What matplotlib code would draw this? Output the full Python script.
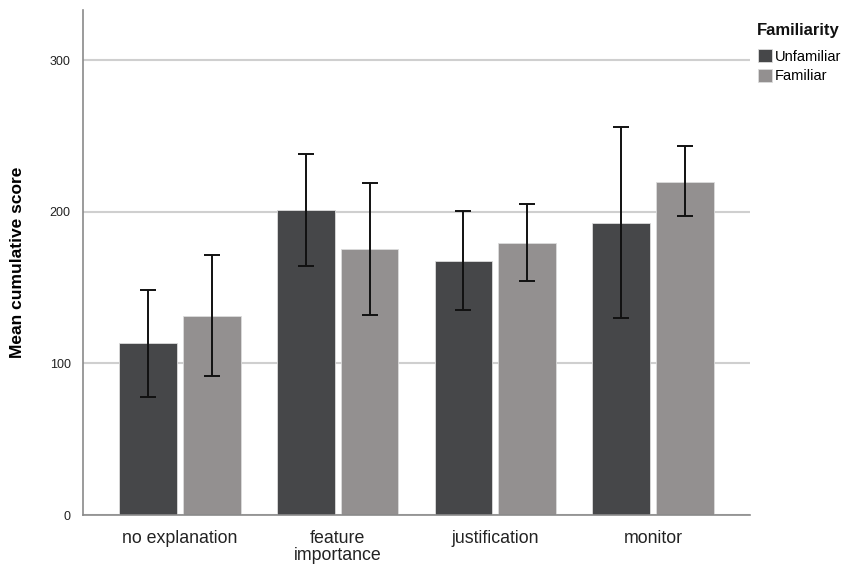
import matplotlib.pyplot as plt
import numpy as np
from matplotlib.patches import Patch

plt.rcParams['font.family'] = ['Liberation Sans', 'DejaVu Sans']

conditions = ['no explanation', 'feature\nimportance', 'justification', 'monitor']
groups = ['Unfamiliar', 'Familiar']

unfam_mean = [113.3, 201.0, 167.4, 192.4]
unfam_lo   = [78.1, 164.0, 135.2, 130.0]
unfam_hi   = [148.5, 238.2, 200.4, 255.8]

fam_mean = [131.5, 175.6, 179.4, 219.9]
fam_lo   = [92.0, 132.1, 154.3, 197.4]
fam_hi   = [171.4, 219.1, 205.3, 243.1]

colors = ['#464749', '#939090']

fig = plt.figure(figsize=(8.57, 5.66), dpi=100)
ax = fig.add_axes([0.097, 0.090, 0.778, 0.892])

x = np.arange(len(conditions))
w = 0.367
off = 0.202

for i, (m, lo, hi) in enumerate([(unfam_mean, unfam_lo, unfam_hi),
                                 (fam_mean, fam_lo, fam_hi)]):
    pos = x + (off if i else -off)
    m = np.array(m)
    err = [m - np.array(lo), np.array(hi) - m]
    ax.bar(pos, m, width=w, color=colors[i], edgecolor='#dcdcdc', linewidth=0.6, zorder=2)
    ax.errorbar(pos, m, yerr=err, fmt='none', ecolor='#111111', elinewidth=1.4,
                capsize=5.8, capthick=1.4, zorder=3)

ax.set_xlim(-0.614, 3.614)
ax.set_ylim(0, 333)
ax.set_yticks([0, 100, 200, 300])
ax.yaxis.grid(True, color='#cfcfcf', linewidth=1.5, zorder=0)
ax.set_axisbelow(True)
ax.tick_params(axis='y', length=0, labelsize=9, pad=9, colors='#222222')
ax.tick_params(axis='x', length=0, labelsize=12.8, pad=11, colors='#222222')
ax.set_xticks(x)
ax.set_xticklabels(conditions, linespacing=1.0)

for s in ['top', 'right']:
    ax.spines[s].set_visible(False)
for s in ['left', 'bottom']:
    ax.spines[s].set_color('#8a8a8a')
    ax.spines[s].set_linewidth(1.2)

ax.set_ylabel('Mean cumulative score', fontsize=12.5, fontweight='bold', labelpad=18)

# legend title drawn separately so the gap to the entries matches
fig.text(757 / 857, 1 - 30 / 566, 'Familiarity', fontsize=12, fontweight='bold',
         ha='left', va='center', color='#111111')
handles = [Patch(facecolor=c, edgecolor='#dcdcdc', linewidth=0.6) for c in colors]
leg = fig.legend(handles, groups, loc='upper left',
                 bbox_to_anchor=(0.884, 0.913), frameon=False, fontsize=10.5,
                 handlelength=1.0, handleheight=1.0, handletextpad=0.2,
                 labelspacing=0.35, borderpad=0.0, borderaxespad=0.0)

fig.savefig('out.png', dpi=100)
